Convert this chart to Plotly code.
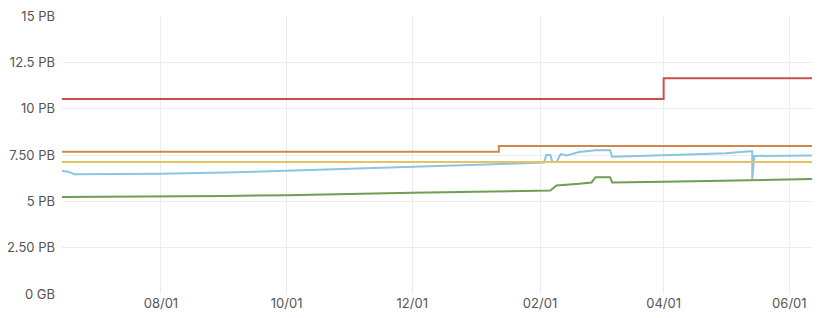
import plotly.graph_objects as go

red_dates = ["2023-06-14", "2024-04-01", "2024-04-01", "2024-06-12"]
red_vals = [10.52, 10.52, 11.64, 11.64]

orange_dates = ["2023-06-14", "2024-01-12", "2024-01-12", "2024-06-12"]
orange_vals = [7.67, 7.67, 7.98, 7.98]

yellow_dates = ["2023-06-14", "2024-06-12"]
yellow_vals = [7.12, 7.12]

blue_dates = ["2023-06-14", "2023-06-17", "2023-06-20", "2023-07-15", "2023-08-01",
              "2023-09-01", "2023-10-01", "2023-11-01", "2023-12-01", "2024-01-01",
              "2024-01-20", "2024-02-01", "2024-02-03", "2024-02-04", "2024-02-06",
              "2024-02-07", "2024-02-09", "2024-02-11", "2024-02-14", "2024-02-20",
              "2024-02-28", "2024-03-06", "2024-03-07", "2024-03-20", "2024-04-01",
              "2024-04-20", "2024-05-01", "2024-05-13", "2024-05-14", "2024-05-14",
              "2024-05-15", "2024-06-12"]
blue_vals = [6.63, 6.60, 6.46, 6.47, 6.49,
             6.55, 6.65, 6.74, 6.85, 6.97,
             7.04, 7.08, 7.09, 7.50, 7.50,
             7.12, 7.12, 7.55, 7.48, 7.66,
             7.76, 7.76, 7.40, 7.44, 7.48,
             7.55, 7.60, 7.70, 7.70, 6.20,
             7.45, 7.47]

green_dates = ["2023-06-14", "2023-07-15", "2023-08-01", "2023-09-01", "2023-10-01",
               "2023-11-01", "2023-12-01", "2024-01-01", "2024-02-01", "2024-02-06",
               "2024-02-09", "2024-02-12", "2024-02-20", "2024-02-26", "2024-02-28",
               "2024-03-06", "2024-03-07", "2024-04-01", "2024-05-01", "2024-05-08",
               "2024-06-12"]
green_vals = [5.24, 5.25, 5.26, 5.29, 5.33,
              5.38, 5.46, 5.52, 5.57, 5.58,
              5.86, 5.88, 5.95, 6.02, 6.30,
              6.30, 6.02, 6.05, 6.10, 6.15,
              6.20]

y_tickvals = [0, 2.5, 5, 7.5, 10, 12.5, 15]
y_ticktext = ["0 GB", "2.50 PB", "5 PB", "7.50 PB", "10 PB", "12.5 PB", "15 PB"]
x_tickvals = ["2023-08-01", "2023-10-01", "2023-12-01", "2024-02-01", "2024-04-01", "2024-06-01"]
x_ticktext = ["08/01", "10/01", "12/01", "02/01", "04/01", "06/01"]

fig = go.Figure()
series = [
    (green_dates, green_vals, "#6e9f52"),
    (blue_dates, blue_vals, "#8ac6de"),
    (yellow_dates, yellow_vals, "#e6c35c"),
    (orange_dates, orange_vals, "#cf874a"),
    (red_dates, red_vals, "#c4524b"),
]
for d, v, c in series:
    fig.add_trace(go.Scatter(x=d, y=v, mode="lines", line=dict(color=c, width=2),
                             showlegend=False, hoverinfo="skip"))

fig.update_layout(
    width=825, height=318,
    margin=dict(l=62, r=13, t=16, b=24),
    paper_bgcolor="white", plot_bgcolor="white",
    font=dict(family="Inter, Roboto, sans-serif", size=13, color="#555555"),
)
fig.update_xaxes(
    type="date", range=["2023-06-14", "2024-06-12"],
    tickvals=x_tickvals, ticktext=x_ticktext, automargin=False,
    showgrid=True, gridcolor="#ececec", gridwidth=1,
    zeroline=False, showline=False, ticks="", ticklen=0,
)
fig.update_yaxes(
    range=[0, 15], tickvals=y_tickvals, ticktext=y_ticktext, automargin=False,
    showgrid=True, gridcolor="#ececec", gridwidth=1,
    zeroline=False, showline=False, ticks="", ticklabelstandoff=6,
)

fig.write_html("out.html", config={"displayModeBar": False},
               post_script="document.body.style.margin='0';")
